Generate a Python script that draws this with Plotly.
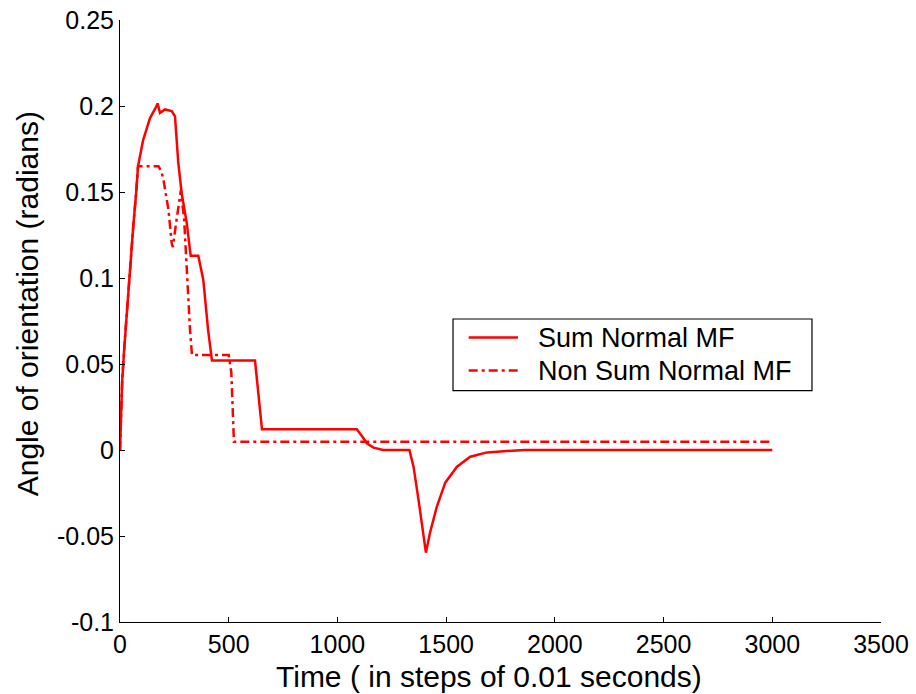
import plotly.graph_objects as go

# Time in steps of 0.01 s, and orientation angle (radians) per controller
sum_t = [0, 5, 10, 20, 30, 43, 61, 74, 83, 106, 138, 160, 173, 184, 207, 238,
         253, 268, 284, 307, 325, 360, 383, 405, 423, 621, 627, 653, 1081, 1089,
         1120, 1135, 1166, 1210, 1331, 1335, 1350, 1373, 1396, 1407, 1426, 1457,
         1496, 1550, 1611, 1688, 1750, 1860, 3000]
sum_y = [0, 0.02, 0.04, 0.06, 0.078, 0.099, 0.13, 0.149, 0.165, 0.18, 0.193,
         0.198, 0.2015, 0.196, 0.198, 0.197, 0.194, 0.167, 0.149, 0.132, 0.113,
         0.113, 0.099, 0.07, 0.052, 0.052, 0.045, 0.012, 0.012, 0.012, 0.0068,
         0.0039, 0.0014, 0.0, 0.0, -0.0019, -0.0097, -0.029, -0.048, -0.0597,
         -0.048, -0.033, -0.019, -0.0097, -0.0039, -0.0014, -0.0008, 0.0, 0.0]

nsum_t = [0, 5, 10, 20, 30, 43, 61, 74, 83, 177, 190, 200, 223, 238, 243, 258,
          276, 280, 295, 304, 310, 322, 331, 500, 512, 520, 524, 3000]
nsum_y = [0, 0.02, 0.04, 0.06, 0.078, 0.099, 0.13, 0.149, 0.165, 0.165, 0.162,
          0.157, 0.1395, 0.120, 0.118, 0.132, 0.149, 0.151, 0.134, 0.112, 0.099,
          0.07, 0.0552, 0.0552, 0.045, 0.02, 0.0048, 0.0048]

series_names = ["Sum Normal MF", "Non Sum Normal MF"]

x_ticks = [0, 500, 1000, 1500, 2000, 2500, 3000, 3500]
y_ticks = [-0.1, -0.05, 0, 0.05, 0.1, 0.15, 0.2, 0.25]
y_tick_text = ["-0.1", "-0.05", "0", "0.05", "0.1", "0.15", "0.2", "0.25"]

x_title = "Time ( in steps of 0.01 seconds)"
y_title = "Angle of orientation (radians)"

FONT = "Liberation Sans, Arial, sans-serif"
RED = "#ff0000"
DASHDOT = "9px,4px,3px,4px"

fig = go.Figure()
fig.add_trace(go.Scatter(x=sum_t, y=sum_y, mode="lines", name=series_names[0],
                         line=dict(color=RED, width=2.5)))
fig.add_trace(go.Scatter(x=nsum_t, y=nsum_y, mode="lines", name=series_names[1],
                         line=dict(color=RED, width=2.5, dash=DASHDOT)))

axis_common = dict(showline=True, linecolor="black", linewidth=1,
                   ticks="inside", ticklen=5, tickcolor="black",
                   showgrid=False, zeroline=False, mirror=False,
                   automargin=False,
                   tickfont=dict(family=FONT, size=25, color="black"))

# Boxed legend drawn in paper coordinates
box = dict(x0=0.4376, x1=0.9093, y0=0.3844, y1=0.5033)
rows_y = [0.4724, 0.4176]
sample_x = [0.4582, 0.5230]
text_x = 0.5466

shapes = [dict(type="rect", xref="paper", yref="paper", layer="above",
               line=dict(color="black", width=1.2), fillcolor="white", **box)]
annotations = []
for name, ry, dash in zip(series_names, rows_y, ["solid", DASHDOT]):
    shapes.append(dict(type="line", xref="paper", yref="paper", layer="above",
                       x0=sample_x[0], x1=sample_x[1], y0=ry, y1=ry,
                       line=dict(color=RED, width=2.5, dash=dash)))
    annotations.append(dict(text=name, xref="paper", yref="paper",
                            x=text_x, y=ry, xanchor="left", yanchor="middle",
                            showarrow=False,
                            font=dict(family=FONT, size=27, color="black")))

# Axis titles placed as annotations
annotations.append(dict(text=x_title, xref="paper", yref="paper",
                        x=0.4849, y=-0.1196, xanchor="center", yanchor="bottom",
                        showarrow=False, borderpad=0,
                        font=dict(family=FONT, size=30, color="black")))
annotations.append(dict(text=y_title, xref="paper", yref="paper",
                        x=-0.122, y=0.528, xanchor="center", yanchor="middle",
                        textangle=-90, showarrow=False,
                        font=dict(family=FONT, size=30, color="black")))

fig.update_layout(
    width=916, height=694,
    margin=dict(l=120, r=35, t=20, b=72),
    paper_bgcolor="white", plot_bgcolor="white",
    font=dict(family=FONT, color="black"),
    xaxis=dict(range=[0, 3500], tickvals=x_ticks, **axis_common),
    yaxis=dict(range=[-0.1, 0.25], tickvals=y_ticks, ticktext=y_tick_text,
               **axis_common),
    shapes=shapes,
    annotations=annotations,
    showlegend=False,
)

fig.write_html("out.html")
